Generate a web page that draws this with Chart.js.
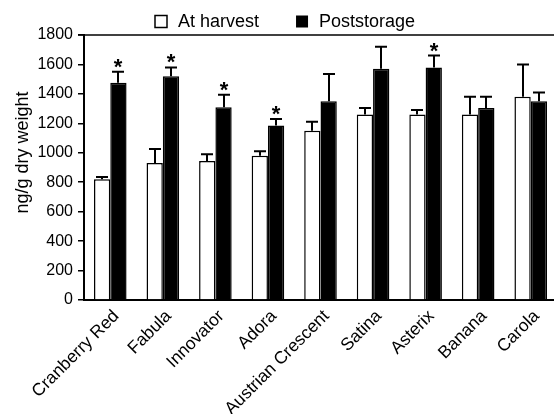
<!DOCTYPE html>
<html>
<head>
<meta charset="utf-8">
<script src="https://cdn.jsdelivr.net/npm/chart.js@4"></script>
<style>
html,body{margin:0;padding:0;background:#fff;overflow:hidden;}
#wrap{width:554px;height:414px;overflow:hidden;}
</style>
</head>
<body>
<div id="wrap"><canvas id="c" width="557" height="414"></canvas></div>
<script>
const categories = ["Cranberry Red","Fabula","Innovator","Adora","Austrian Crescent","Satina","Asterix","Banana","Carola"];
const seriesNames = ["At harvest","Poststorage"];
const atHarvest = [820, 930, 945, 980, 1150, 1260, 1260, 1260, 1380];
const atHarvestErr = [15, 95, 45, 30, 60, 45, 30, 120, 220];
const poststorage = [1475, 1520, 1310, 1185, 1350, 1570, 1580, 1305, 1350];
const poststorageErr = [75, 60, 85, 45, 185, 150, 80, 75, 60];
const significant = [true, true, true, true, false, false, true, false, false];
const yMin = 0, yMax = 1800, yStep = 200;
const yTitle = "ng/g dry weight";

const FONT = "'Liberation Sans', Arial, Helvetica, sans-serif";
const errors = [atHarvestErr, poststorageErr];

const errorBarPlugin = {
  id: 'errorBars',
  afterDatasetsDraw(chart) {
    const ctx = chart.ctx;
    const ys = chart.scales.y;
    ctx.save();
    ctx.strokeStyle = '#000';
    ctx.fillStyle = '#000';
    ctx.lineWidth = 2;
    chart.data.datasets.forEach((ds, di) => {
      const meta = chart.getDatasetMeta(di);
      meta.data.forEach((bar, i) => {
        const v = ds.data[i];
        const top = ys.getPixelForValue(v + errors[di][i]);
        const x = Math.round(bar.x);
        ctx.beginPath();
        ctx.moveTo(x, bar.y);
        ctx.lineTo(x, top);
        ctx.moveTo(x - 6, top);
        ctx.lineTo(x + 6, top);
        ctx.stroke();
        if (di === 1 && significant[i]) {
          ctx.font = "bold 22px " + FONT;
          ctx.textAlign = 'center';
          ctx.textBaseline = 'alphabetic';
          ctx.fillText('*', x, top + 2);
        }
      });
    });
    ctx.restore();
  }
};

const framePlugin = {
  id: 'frame',
  afterDraw(chart) {
    const ctx = chart.ctx;
    const a = chart.chartArea;
    ctx.save();
    ctx.strokeStyle = '#000';
    ctx.lineWidth = 1.5;
    ctx.beginPath();
    ctx.moveTo(a.left - 6, a.top);
    ctx.lineTo(chart.width, a.top);
    ctx.stroke();
    // y title
    ctx.save();
    ctx.translate(23, 152.5);
    ctx.rotate(-Math.PI / 2);
    ctx.font = "18px " + FONT;
    ctx.textAlign = 'center';
    ctx.textBaseline = 'middle';
    ctx.fillStyle = '#000';
    ctx.fillText(yTitle, 0, 0);
    ctx.restore();
    // legend
    ctx.font = "18px " + FONT;
    ctx.textBaseline = 'middle';
    ctx.textAlign = 'left';
    const box = 12, gapT = 11, gapI = 37;
    const w0 = ctx.measureText(seriesNames[0]).width;
    let x = 155;
    const yc = 21.5;
    ctx.fillStyle = '#fff';
    ctx.fillRect(x, yc - box / 2, box, box);
    ctx.lineWidth = 1.5;
    ctx.strokeRect(x, yc - box / 2, box, box);
    ctx.fillStyle = '#000';
    ctx.fillText(seriesNames[0], x + box + gapT, yc + 1);
    x += box + gapT + w0 + gapI;
    ctx.fillRect(x, yc - box / 2, box, box);
    ctx.fillText(seriesNames[1], x + box + gapT, yc + 1);
    ctx.restore();
  }
};

new Chart(document.getElementById('c'), {
  type: 'bar',
  data: {
    labels: categories,
    datasets: [
      { label: seriesNames[0], data: atHarvest, backgroundColor: '#fff', borderColor: '#000', borderWidth: 1.5,
        categoryPercentage: 0.62, barPercentage: 1.0 },
      { label: seriesNames[1], data: poststorage, backgroundColor: '#000', borderColor: '#000', borderWidth: 1.5,
        categoryPercentage: 0.62, barPercentage: 1.0 }
    ]
  },
  options: {
    responsive: false,
    animation: false,
    devicePixelRatio: 1,
    layout: { padding: { top: 35, right: 0, left: 0, bottom: 0 } },
    plugins: { legend: { display: false }, tooltip: { enabled: false } },
    scales: {
      x: {
        grid: { display: false, drawTicks: false },
        border: { color: '#000', width: 2 },
        ticks: { color: '#000', font: { family: FONT, size: 17.5 }, minRotation: 45, maxRotation: 45, padding: 6, labelOffset: 6, autoSkip: false },
        afterFit(s) { s.height = 114; s.paddingRight = 0; s.paddingLeft = 0; }
      },
      y: {
        min: yMin, max: yMax,
        grid: { drawOnChartArea: false, drawTicks: true, tickLength: 6, color: '#000', lineWidth: 1.5 },
        border: { color: '#000', width: 2 },
        ticks: { stepSize: yStep, color: '#000', font: { family: FONT, size: 16 }, padding: 5,
                 callback: (v) => String(v) },
        afterFit(s) { s.width = 84; }
      }
    }
  },
  plugins: [errorBarPlugin, framePlugin]
});
</script>
</body>
</html>
